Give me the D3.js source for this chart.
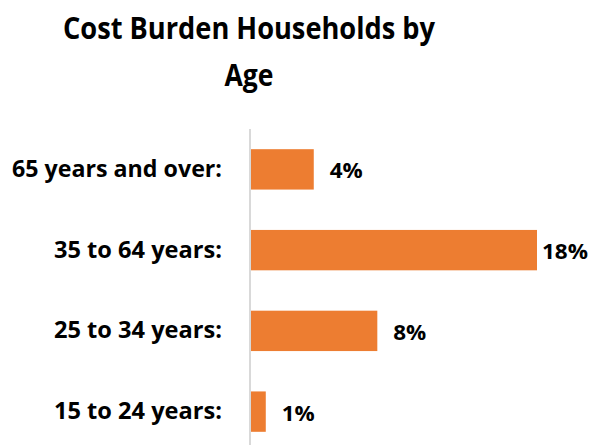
<!DOCTYPE html>
<html>
<head>
<meta charset="utf-8">
<script src="https://cdn.jsdelivr.net/npm/d3@7"></script>
<style>
  body { margin: 0; background: #fff; }
  text { font-family: "Open Sans", Lato, sans-serif; font-weight: bold; fill: #000; }
</style>
</head>
<body>
<script>
// chart data
var categories = ["65 years and over:", "35 to 64 years:", "25 to 34 years:", "15 to 24 years:"];
var values = [3.95, 18, 7.95, 0.93];
var titleLines = ["Cost Burden Households by", "Age"];

var width = 593, height = 445,
    barColor = "#ED7D31",
    axisLeft = 251;

var svg = d3.select("body").append("svg")
  .attr("width", width)
  .attr("height", height);

var x = d3.scaleLinear().domain([0, 18]).range([axisLeft, 537]);
var y = d3.scaleBand().domain(categories)
  .range([129, 452])
  .paddingInner(0.5)
  .paddingOuter(0.25);

// Calibri is not here, so squeeze a wider font to the same width
function fitText(sel, size, targetWidth) {
  sel.style("font-size", size + "px")
    .attr("textLength", targetWidth)
    .attr("lengthAdjust", "spacingAndGlyphs");
}

// title
var titleBase = [39, 86];
titleLines.forEach(function(line, i) {
  var t = svg.append("text")
    .attr("x", 249)
    .attr("y", titleBase[i])
    .attr("text-anchor", "middle")
    .text(line);
  fitText(t, 31, i === 0 ? 372 : 49);
});

// vertical axis line
svg.append("line")
  .attr("x1", axisLeft - 1).attr("x2", axisLeft - 1)
  .attr("y1", 129).attr("y2", height)
  .style("stroke", "#d9d9d9")
  .style("stroke-width", 2);

// bars
svg.selectAll("rect.bar")
  .data(values)
  .enter().append("rect")
  .attr("class", "bar")
  .attr("x", x(0))
  .attr("y", function(d, i) { return y(categories[i]); })
  .attr("width", function(d) { return x(d) - x(0); })
  .attr("height", y.bandwidth())
  .attr("fill", barColor);

// category labels
var labelWidths = [210, 168, 168, 168];
categories.forEach(function(c, i) {
  var t = svg.append("text")
    .attr("x", 222)
    .attr("y", y(c) + y.bandwidth() / 2 + 7.5)
    .attr("text-anchor", "end")
    .text(c);
  fitText(t, 23, labelWidths[i]);
});

// value labels
var fmt = function(d) { return Math.round(d) + "%"; };
values.forEach(function(v, i) {
  var w = fmt(v).length === 3 ? 46 : 33;
  var t = svg.append("text")
    .attr("y", y(categories[i]) + y.bandwidth() / 2 + 9)
    .text(fmt(v));
  fitText(t, 22, w);
  t.attr("x", Math.min(x(v) + 16, width - 5 - w));
});
</script>
</body>
</html>
